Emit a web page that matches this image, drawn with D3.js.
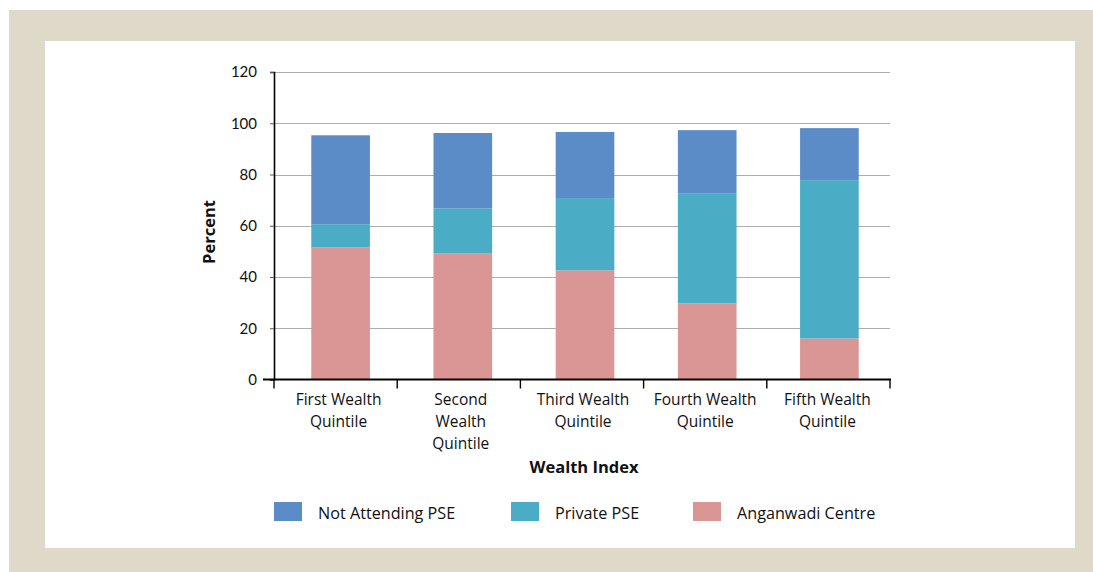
<!DOCTYPE html>
<html>
<head>
<meta charset="utf-8">
<script src="https://cdn.jsdelivr.net/npm/d3@7"></script>
<style>
  body { margin: 0; background: #fff; }
  text { font-family: "Open Sans", "Lato", sans-serif; fill: #111; }
</style>
</head>
<body>
<svg id="chart" width="1093" height="572"></svg>
<script>
// data
const categories = [
  ["First Wealth", "Quintile"],
  ["Second", "Wealth", "Quintile"],
  ["Third Wealth", "Quintile"],
  ["Fourth Wealth", "Quintile"],
  ["Fifth Wealth", "Quintile"]
];
const seriesNames = ["Anganwadi Centre", "Private PSE", "Not Attending PSE"];
const anganwadi = [51.6, 49.3, 42.6, 29.7, 16.0];
const privatePSE = [9.0, 17.5, 28.2, 43.0, 61.8];
const notAttending = [34.7, 29.4, 25.8, 24.6, 20.3];
const yTicks = [0, 20, 40, 60, 80, 100, 120];
const colors = ["#d99694", "#4bacc6", "#5b8cc8"];

const svg = d3.select("#chart");

// frame
svg.append("rect").attr("x", 9).attr("y", 10).attr("width", 1084).attr("height", 562).attr("fill", "#ded9c9");
svg.append("rect").attr("x", 45).attr("y", 41).attr("width", 1030).attr("height", 507).attr("fill", "#fff");

const plotLeft = 274, plotRight = 890, plotTop = 72, plotBottom = 379.5;

// bars sit a little right of the tick bands in the original
const x = d3.scaleBand().domain(d3.range(categories.length)).range([279.5, 890.5]).paddingInner(0.52).paddingOuter(0.26);
const y = d3.scaleLinear().domain([0, 120]).range([plotBottom, plotTop]);

// gridlines
svg.append("g").selectAll("line").data(yTicks.filter(d => d > 0)).enter().append("line")
  .attr("x1", plotLeft).attr("x2", plotRight)
  .attr("y1", d => Math.round(y(d)) + 0.5).attr("y2", d => Math.round(y(d)) + 0.5)
  .attr("stroke", "#adadad").attr("stroke-width", 1.2);

// stacked bars
const rows = categories.map((c, i) => ({ i: i, a: anganwadi[i], p: privatePSE[i], n: notAttending[i] }));
const stack = d3.stack().keys(["a", "p", "n"])(rows);
svg.append("g").selectAll("g").data(stack).enter().append("g")
  .attr("fill", (d, k) => colors[k])
  .selectAll("rect").data(d => d).enter().append("rect")
  .attr("x", d => x(d.data.i))
  .attr("width", x.bandwidth())
  .attr("y", d => y(d[1]))
  .attr("height", d => y(d[0]) - y(d[1]));

// y axis
const yAxis = svg.append("g").attr("transform", `translate(${plotLeft},0)`)
  .call(d3.axisLeft(y).tickValues(yTicks).tickSize(4).tickPadding(13));
yAxis.select(".domain").attr("stroke", "#000").attr("stroke-width", 1.6);
yAxis.selectAll(".tick line").attr("stroke", "#555");
yAxis.selectAll("text").attr("font-size", 15).style("font-family", "Lato, sans-serif").attr("fill", "#111");

// x axis
const bandEdges = d3.range(categories.length + 1).map(i => plotLeft + i * (plotRight - plotLeft) / categories.length);
svg.append("line").attr("x1", 263).attr("x2", plotRight + 1).attr("y1", plotBottom).attr("y2", plotBottom)
  .attr("stroke", "#000").attr("stroke-width", 1.8);
svg.append("g").selectAll("line").data(bandEdges).enter().append("line")
  .attr("x1", d => d).attr("x2", d => d).attr("y1", plotBottom).attr("y2", plotBottom + 9)
  .attr("stroke", "#000").attr("stroke-width", 1.4);

const xl = svg.append("g").selectAll("text").data(categories).enter().append("text")
  .attr("text-anchor", "middle")
  .attr("font-size", 15.5)
  .attr("x", (d, i) => x(i) + x.bandwidth() / 2 - 2)
  .attr("y", 405);
xl.selectAll("tspan").data(d => d).enter().append("tspan")
  .attr("x", function () { return this.parentNode.getAttribute("x"); })
  .attr("dy", (d, j) => j === 0 ? 0 : 22)
  .text(d => d);

// axis titles
svg.append("text").attr("x", 584).attr("y", 473).attr("text-anchor", "middle")
  .attr("font-size", 16.5).attr("font-weight", "bold").text("Wealth Index");
svg.append("text").attr("transform", "translate(215,232) rotate(-90)").attr("text-anchor", "middle")
  .attr("font-size", 16.5).attr("font-weight", "bold").text("Percent");

// legend
const legend = [
  { name: seriesNames[2], color: colors[2], x: 274 },
  { name: seriesNames[1], color: colors[1], x: 511 },
  { name: seriesNames[0], color: colors[0], x: 693 }
];
const lg = svg.append("g").selectAll("g").data(legend).enter().append("g")
  .attr("transform", d => `translate(${d.x},502)`);
lg.append("rect").attr("width", 28).attr("height", 19).attr("fill", d => d.color);
lg.append("text").attr("x", 44).attr("y", 16.5).attr("font-size", 16.2).text(d => d.name);
</script>
</body>
</html>
